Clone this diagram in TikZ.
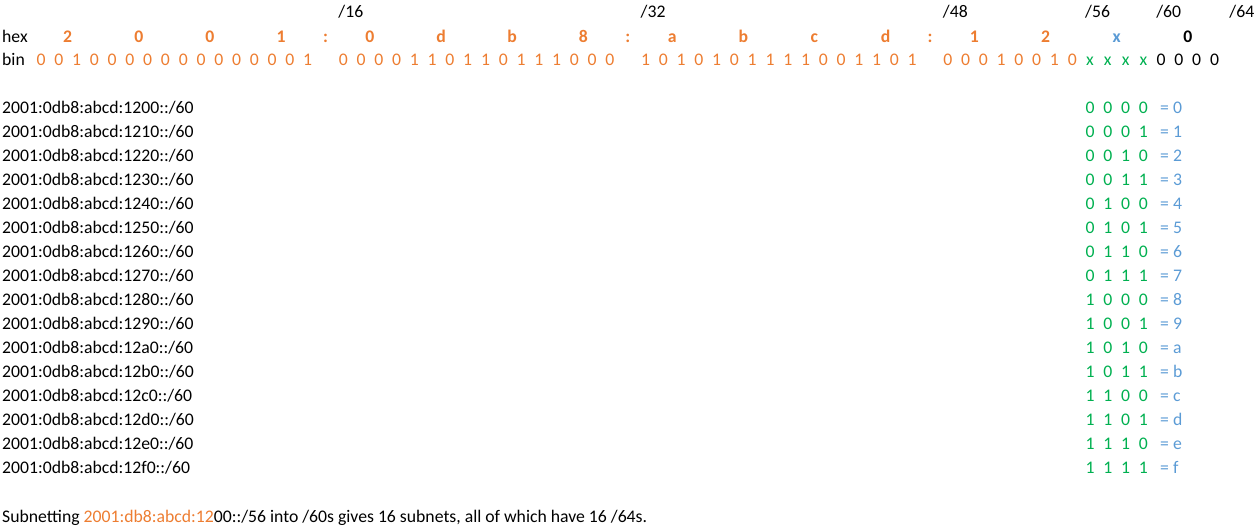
\documentclass[tikz,border=0pt]{standalone}
\usepackage{fontspec}
\setmainfont{Carlito}
\usepackage{xcolor}
\definecolor{xlorange}{HTML}{ED7D31}
\definecolor{xlgreen}{HTML}{00B050}
\definecolor{xlblue}{HTML}{5B9BD5}

\tikzset{
  cell/.style={inner sep=0pt, anchor=base, font=\fontsize{17.7}{20}\selectfont},
  lefttext/.style={cell, anchor=base west},
  bitorange/.style={cell, text=xlorange},
  bitgreen/.style={cell, text=xlgreen},
  hexdigit/.style={cell, text=xlorange, font=\fontsize{17.7}{20}\selectfont\bfseries},
}

\begin{document}
\begin{tikzpicture}[x=1pt, y=-1pt]
 \useasboundingbox (0,0) rectangle (1260,527);
 % column k sits at 41 + 17.78 k
 \def\cw{17.78}

 % prefix marks
 \node[lefttext] (p16) at ({41+\cw*17-5}, 18) {/16};
 \node[lefttext] (p32) at ({41+\cw*34-5}, 18) {/32};
 \node[lefttext] (p48) at ({41+\cw*51-5}, 18) {/48};
 \node[lefttext] (p56) at ({41+\cw*59-5}, 18) {/56};
 \node[lefttext] (p60) at ({41+\cw*63-5}, 18) {/60};
 \node[lefttext] (p64) at ({41+\cw*67-3}, 18) {/64};

 % hex row
 \node[lefttext] (hexnote) at (2, 42.5) {hex};
 \foreach \g/\digits in {0/{2,0,0,1}, 1/{0,d,b,8}, 2/{a,b,c,d}}
   \foreach \h [count=\j from 0] in \digits
     \node[hexdigit] (h\g-\j) at ({41+\cw*(17*\g+4*\j+1.5)}, 42.5) {\h};
 \node[hexdigit] (h3-0) at ({41+\cw*(51+1.5)}, 42.5) {1};
 \node[hexdigit] (h3-1) at ({41+\cw*(51+5.5)}, 42.5) {2};
 \node[hexdigit, text=xlblue] (h3-2) at ({41+\cw*(51+9.5)}, 42.5) {x};
 \node[hexdigit, text=black] (h3-3) at ({41+\cw*(51+13.5)}, 42.5) {0};
 \foreach \g in {0,1,2}
   \node[hexdigit] (colon\g) at ({41+\cw*(17*\g+16)}, 42.5) {:};

 % bin row
 \node[lefttext] (binnote) at (2, 65.5) {bin};
 \foreach \v [count=\i from 0] in {0,0,1,0,0,0,0,0,0,0,0,0,0,0,0,1}
   \node[bitorange] (b0-\i) at ({41+\cw*\i}, 65.5) {\v};
 \foreach \v [count=\i from 0] in {0,0,0,0,1,1,0,1,1,0,1,1,1,0,0,0}
   \node[bitorange] (b1-\i) at ({41+\cw*(17+\i)}, 65.5) {\v};
 \foreach \v [count=\i from 0] in {1,0,1,0,1,0,1,1,1,1,0,0,1,1,0,1}
   \node[bitorange] (b2-\i) at ({41+\cw*(34+\i)}, 65.5) {\v};
 \foreach \v [count=\i from 0] in {0,0,0,1,0,0,1,0}
   \node[bitorange] (b3-\i) at ({41+\cw*(51+\i)}, 65.5) {\v};
 \foreach \i in {8,...,11}
   \node[bitgreen] (b3-\i) at ({41+\cw*(51+\i)}, 65.5) {x};
 \foreach \i in {12,...,15}
   \node[cell] (b3-\i) at ({41+\cw*(51+\i)}, 65.5) {0};

 % the 16 subnets
 \foreach \h/\a/\b/\c/\d [count=\r from 0] in {
     0/0/0/0/0, 1/0/0/0/1, 2/0/0/1/0, 3/0/0/1/1,
     4/0/1/0/0, 5/0/1/0/1, 6/0/1/1/0, 7/0/1/1/1,
     8/1/0/0/0, 9/1/0/0/1, a/1/0/1/0, b/1/0/1/1,
     c/1/1/0/0, d/1/1/0/1, e/1/1/1/0, f/1/1/1/1} {
   \node[lefttext] (net\r) at (2, {113+24*\r}) {2001:0db8:abcd:12\h0::/60};
   \node[bitgreen] (s\r-0) at ({41+\cw*59}, {113+24*\r}) {\a};
   \node[bitgreen] (s\r-1) at ({41+\cw*60}, {113+24*\r}) {\b};
   \node[bitgreen] (s\r-2) at ({41+\cw*61}, {113+24*\r}) {\c};
   \node[bitgreen] (s\r-3) at ({41+\cw*62}, {113+24*\r}) {\d};
   \node[lefttext, text=xlblue] (v\r) at (1160, {113+24*\r}) {= \h};
 }

 % summary
 \node[lefttext] (summary) at (2, 522)
   {Subnetting \textcolor{xlorange}{2001:db8:abcd:12}00::/56 into /60s gives 16 subnets, all of which have 16 /64s.};
\end{tikzpicture}
\end{document}
